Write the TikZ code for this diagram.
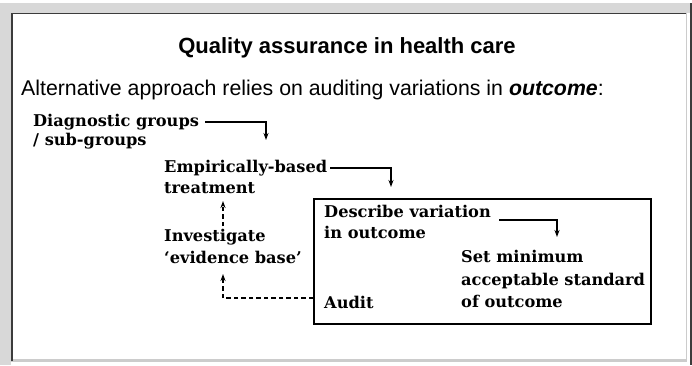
\documentclass[tikz,border=0pt]{standalone}
\usepackage{fontspec}
\setmainfont{Liberation Sans}
\newfontfamily\diagfont{DejaVu Serif}
\usetikzlibrary{arrows.meta}
\definecolor{framegray}{HTML}{D8D8D8}
\definecolor{framedark}{HTML}{3C3C3C}
\definecolor{framelight}{HTML}{CCCCCC}
\begin{document}
\begin{tikzpicture}[x=1pt,y=-1pt,
  titlestyle/.style={anchor=base, inner sep=0pt, font=\bfseries\fontsize{22}{26}\selectfont},
  substyle/.style={anchor=base west, inner sep=0pt, font=\fontsize{21.3}{25}\selectfont},
  lbl/.style={anchor=base west, inner sep=0pt, font=\diagfont\bfseries\fontsize{16.2}{20}\selectfont},
  conn/.style={line width=1.3pt, -{Stealth[length=7pt,width=5pt]}},
  dconn/.style={conn, dash pattern=on 4.5pt off 3pt},
  boxstyle/.style={draw, line width=1.8pt, anchor=north west, inner sep=0pt, minimum width=337pt, minimum height=125pt}]
\useasboundingbox (0,0) rectangle (692,365);
% frame
\fill[white] (0,0) rectangle (692,365);
\fill[framegray] (0,3) rectangle (692,12.5);
\fill[framegray] (0,3) rectangle (10.5,365);
\fill[framedark] (689.5,3) rectangle (692,365);
\draw[framelight, line width=1.2pt] (686.5,13) -- (686.5,361);
\draw[framelight, line width=2.5pt] (11,360.5) -- (687,360.5);
\draw[framedark, line width=1.5pt] (11.75,13) -- (11.75,361);
\draw[framedark, line width=1.5pt] (11,13.5) -- (686,13.5);
% texts
\node[titlestyle] (title) at (347,53) {Quality assurance in health care};
\node[substyle] (sub) at (21,95) {Alternative approach relies on auditing variations in \textbf{\textit{outcome}}:};
\node[lbl] (diag1) at (33,126) {Diagnostic groups};
\node[lbl] (diag2) at (33,145) {/ sub-groups};
\node[lbl] (emp1) at (164,172) {Empirically-based};
\node[lbl] (emp2) at (164,193) {treatment};
\node[lbl] (inv1) at (164,241) {Investigate};
\node[lbl] (inv2) at (164,263) {‘evidence base’};
\node[boxstyle] (box) at (313,198) {};
\node[lbl] (desc1) at (324,217) {Describe variation};
\node[lbl] (desc2) at (324,238) {in outcome};
\node[lbl] (set1) at (461,262) {Set minimum};
\node[lbl] (set2) at (461,285) {acceptable standard};
\node[lbl] (set3) at (461,307) {of outcome};
\node[lbl] (audit) at (324,308) {Audit};
% connectors
\coordinate (a1) at (266,140);
\coordinate (a2) at (391,187);
\coordinate (a3) at (557,237);
\coordinate (u1s) at (223,226);
\coordinate (u1e) at (223,201);
\coordinate (u2e) at (223,274);
\draw[conn] ([xshift=6pt,yshift=4pt]diag1.base east) -| (a1);
\draw[conn] ([xshift=3pt,yshift=4pt]emp1.base east) -| (a2);
\draw[conn] ([xshift=8pt,yshift=-3pt]desc1.base east) -| (a3);
\draw[dconn] (u1s) -- (u1e);
\draw[dconn] (box.west |- 0,298) -| (u2e);
\end{tikzpicture}
\end{document}
